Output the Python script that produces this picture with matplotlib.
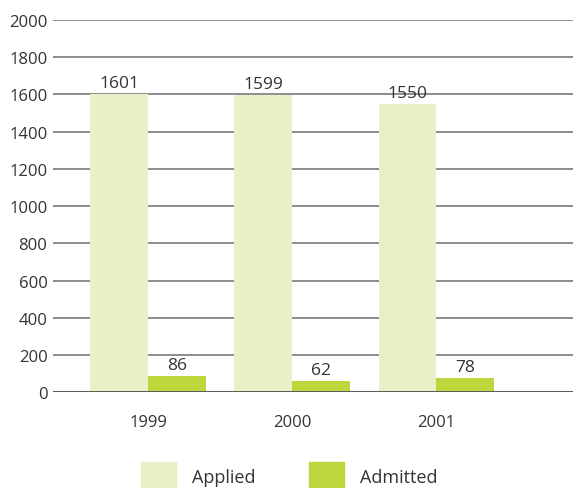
import matplotlib.pyplot as plt
import numpy as np
from matplotlib.patches import Patch

# Data.
years = ['1999', '2000', '2001']
applied = [1601, 1599, 1550]
admitted = [86, 62, 78]
y_ticks = [0, 200, 400, 600, 800, 1000, 1200, 1400, 1600, 1800, 2000]

applied_color = '#e7f0c6'
admitted_color = '#bed53b'
text_color = '#333333'

plt.rcParams['font.family'] = ['Open Sans', 'DejaVu Sans']

fig = plt.figure(figsize=(5.73, 4.89), dpi=100)
ax = fig.add_axes([0.0925, 0.196, 0.9075, 0.761])

x = np.arange(len(years))
w = 0.4
ax.bar(x - w / 2, applied, width=w, color=applied_color, zorder=2)
ax.bar(x + w / 2, admitted, width=w, color=admitted_color, zorder=2)

# Value labels above each bar.
for i in range(len(years)):
    ax.text(x[i] - w / 2, applied[i] + 15, str(applied[i]), ha='center',
            va='bottom', fontsize=12.5, color=text_color, zorder=3)
    ax.text(x[i] + w / 2, admitted[i] + 15, str(admitted[i]), ha='center',
            va='bottom', fontsize=12.5, color=text_color, zorder=3)

ax.set_xlim(-0.66, 2.95)
ax.set_ylim(0, 2000)
ax.set_yticks(y_ticks)
ax.set_yticklabels([str(v) for v in y_ticks])
ax.set_xticks(x)
ax.set_xticklabels(years)
ax.yaxis.grid(True, color='#7a7a7a', linewidth=1.2, zorder=1)
ax.axhline(0, color='#5a5a5a', linewidth=1.4, zorder=3)
ax.tick_params(axis='y', length=0, pad=4, labelsize=12, labelcolor=text_color)
ax.tick_params(axis='x', length=0, pad=16, labelsize=12, labelcolor=text_color)
for s in ax.spines.values():
    s.set_visible(False)

handles = [Patch(color=applied_color, label='Applied'),
           Patch(color=admitted_color, label='Admitted')]
fig.legend(handles=handles, loc='lower center', bbox_to_anchor=(0.505, -0.038),
           ncol=2, frameon=False, fontsize=13, handlelength=1.9,
           handleheight=2.0, handletextpad=0.9, columnspacing=3.0,
           labelcolor=text_color)

plt.savefig('out.png', dpi=100)
